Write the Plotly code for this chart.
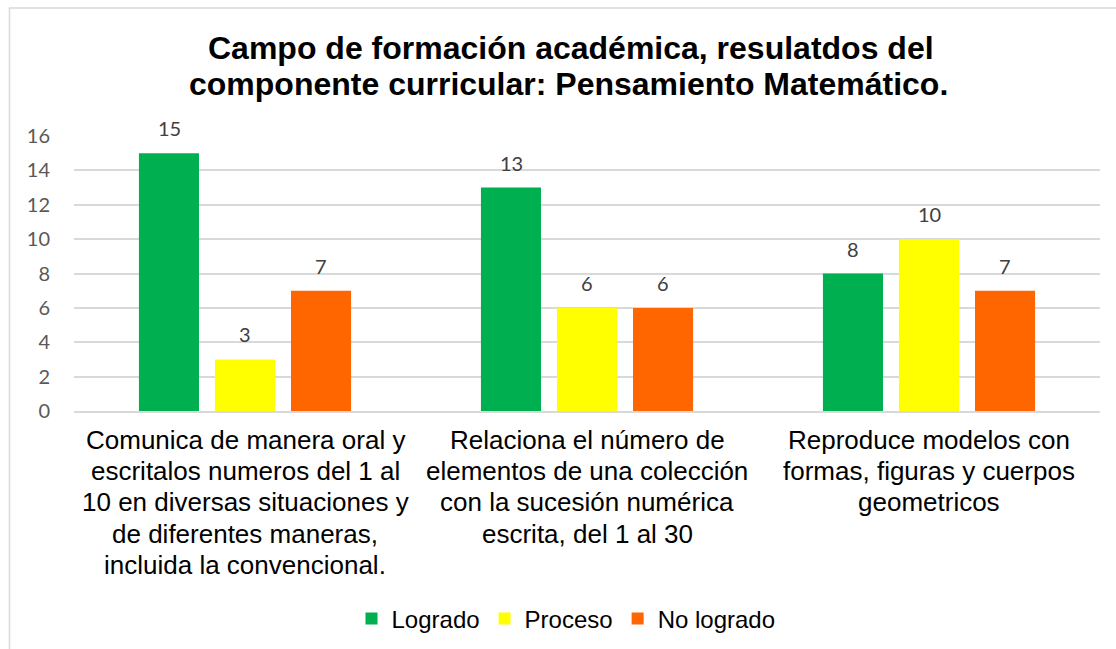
import plotly.graph_objects as go

categories = ["Comunica", "Relaciona", "Reproduce"]
category_lines = [
    ["Comunica de manera oral y", "escritalos numeros del 1 al", "10 en diversas situaciones y",
     "de diferentes maneras,", "incluida la convencional."],
    ["Relaciona el número de", "elementos de una colección", "con la sucesión numérica",
     "escrita, del 1 al 30"],
    ["Reproduce modelos con", "formas, figuras y cuerpos", "geometricos"],
]
series_names = ["Logrado", "Proceso", "No logrado"]
logrado = [15, 13, 8]
proceso = [3, 6, 10]
no_logrado = [7, 6, 7]
colors = ["#00B050", "#FFFF00", "#FF6600"]
y_ticks = [0, 2, 4, 6, 8, 10, 12, 14, 16]
title_lines = ["Campo de formación académica, resulatdos del",
               "componente curricular: Pensamiento Matemático."]

W, H = 1116, 649
l, r, t, b = 74, 16, 136, 238
pw, ph = W - l - r, H - t - b


def px_x(x):
    return (x - l) / pw


def px_y(y):
    return (H - b - y) / ph


fig = go.Figure()
all_series = [logrado, proceso, no_logrado]
for name, vals, col in zip(series_names, all_series, colors):
    fig.add_trace(go.Bar(
        x=categories, y=vals, name=name, marker_color=col,
        marker_line_width=0,
    ))

annotations = []
# data labels
slot = 76
for si, vals in enumerate(all_series):
    for ci, v in enumerate(vals):
        annotations.append(dict(
            x=categories[ci], y=v, xref="x", yref="y", text=str(v),
            showarrow=False, xshift=(si - 1) * slot, yshift=25,
            yanchor="middle", xanchor="center",
            font=dict(family="Lato", size=20, color="#404040"),
        ))
# category labels
line_y0, line_dy = 440, 31.2
for ci, lines in enumerate(category_lines):
    for li, txt in enumerate(lines):
        annotations.append(dict(
            x=categories[ci], y=px_y(line_y0 + li * line_dy), xref="x", yref="paper",
            text=txt, showarrow=False, xanchor="center", yanchor="middle",
            font=dict(family="Liberation Sans, Arial", size=26, color="#000000"),
        ))
# title lines
for li, (txt, cx, cy) in enumerate(zip(title_lines, [571, 568], [48, 84])):
    annotations.append(dict(
        x=px_x(cx), y=px_y(cy), xref="paper", yref="paper", text="<b>" + txt + "</b>",
        showarrow=False, xanchor="center", yanchor="middle",
        font=dict(family="Liberation Sans, Arial", size=32, color="#000000"),
    ))

fig.update_layout(
    width=W, height=H,
    margin=dict(l=l, r=r, t=t, b=b, autoexpand=False),
    paper_bgcolor="white", plot_bgcolor="white",
    barmode="group", bargap=0.333, bargroupgap=0.21,
    yaxis=dict(
        range=[0, 16], tickvals=y_ticks, showgrid=True, gridcolor="#D9D9D9",
        gridwidth=1.5, zeroline=False, showline=False, automargin=False,
        tickfont=dict(family="Lato", size=20, color="#595959"),
        ticklabelstandoff=23, fixedrange=True,
    ),
    xaxis=dict(
        showline=True, linecolor="#D9D9D9", linewidth=1.5,
        showticklabels=False, automargin=False, fixedrange=True,
    ),
    legend=dict(
        orientation="h", x=px_x(566), xanchor="center",
        y=px_y(619), yanchor="middle",
        font=dict(family="Liberation Sans, Arial", size=24, color="#000000"),
        itemwidth=30, tracegroupgap=0,
    ),
    showlegend=True,
    annotations=annotations,
    shapes=[dict(
        type="rect", xref="paper", yref="paper",
        x0=px_x(9.5), x1=px_x(1130), y0=px_y(660), y1=px_y(8),
        line=dict(color="#D9D9D9", width=1.5), fillcolor="rgba(0,0,0,0)",
        layer="below",
    )],
)

fig.write_html(
    "out.html",
    config={"displayModeBar": False},
    post_script="document.body.style.margin='0';document.body.style.overflow='hidden';",
)
